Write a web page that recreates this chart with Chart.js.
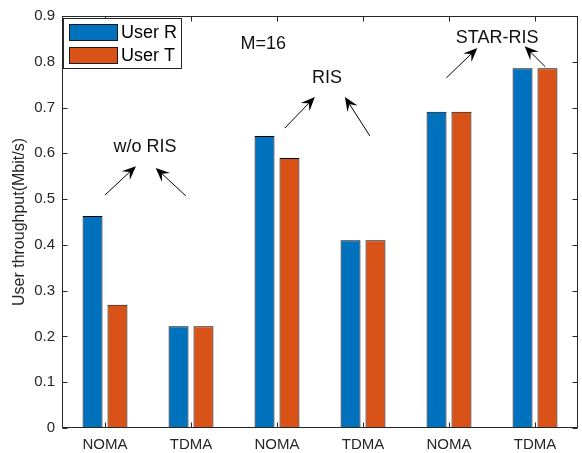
<!DOCTYPE html>
<html>
<head>
<meta charset="utf-8">
<script src="https://cdn.jsdelivr.net/npm/chart.js@4.4.1/dist/chart.umd.min.js"></script>
<style>
html,body{margin:0;padding:0;background:#fff;}
#wrap{position:relative;width:582px;height:453px;}
</style>
</head>
<body>
<div id="wrap"><canvas id="c" width="582" height="453"></canvas></div>
<script>
// ---- data ----
const categories = ['NOMA', 'TDMA', 'NOMA', 'TDMA', 'NOMA', 'TDMA'];
const userR = [0.463, 0.222, 0.638, 0.410, 0.691, 0.786];
const userT = [0.269, 0.222, 0.590, 0.410, 0.691, 0.786];
const seriesNames = ['User R', 'User T'];
const yTickLabels = ['0', '0.1', '0.2', '0.3', '0.4', '0.5', '0.6', '0.7', '0.8', '0.9'];
const yTitle = 'User throughput(Mbit/s)';

// annotation texts (x in category index units, y in data units)
const annotTexts = [
  { text: 'w/o RIS', x: 0.465, y: 0.614 },
  { text: 'M=16', x: 1.84, y: 0.839 },
  { text: 'RIS', x: 2.58, y: 0.765 },
  { text: 'STAR-RIS', x: 4.56, y: 0.852 }
];
// arrows: from (x0,y0) to head at (x1,y1), in data units
const annotArrows = [
  { x0: 0.00, y0: 0.509, x1: 0.36, y1: 0.572 },
  { x0: 0.94, y0: 0.507, x1: 0.59, y1: 0.568 },
  { x0: 2.09, y0: 0.655, x1: 2.44, y1: 0.723 },
  { x0: 3.08, y0: 0.638, x1: 2.79, y1: 0.723 },
  { x0: 3.97, y0: 0.765, x1: 4.33, y1: 0.830 },
  { x0: 5.12, y0: 0.789, x1: 4.88, y1: 0.834 }
];

const FONT = "'Liberation Sans', Arial, Helvetica, sans-serif";
const AX = '#262626';

function xPix(scale, v) {
  const p0 = scale.getPixelForValue(0);
  const p1 = scale.getPixelForValue(1);
  return p0 + (p1 - p0) * v;
}

const boxPlugin = {
  id: 'boxPlugin',
  afterDatasetsDraw(chart) {
    const { ctx, chartArea: a, scales: { x, y } } = chart;
    ctx.save();
    ctx.strokeStyle = AX;
    ctx.lineWidth = 1;
    const L = Math.round(a.left) + 0.5, R = Math.round(a.right) - 0.5;
    const T = Math.round(a.top) + 0.5, B = Math.round(a.bottom) - 0.5;
    ctx.strokeRect(L, T, R - L, B - T);
    const tl = 5;
    ctx.beginPath();
    yTickLabels.forEach((_, i) => {
      const py = Math.round(y.getPixelForValue(i * 0.1)) + 0.5;
      ctx.moveTo(L, py); ctx.lineTo(L + tl, py);
      ctx.moveTo(R, py); ctx.lineTo(R - tl, py);
    });
    categories.forEach((_, i) => {
      const px = Math.round(x.getPixelForValue(i)) + 0.5;
      ctx.moveTo(px, B); ctx.lineTo(px, B - tl);
      ctx.moveTo(px, T); ctx.lineTo(px, T + tl);
    });
    ctx.stroke();

    // annotations
    ctx.fillStyle = '#111';
    ctx.font = '18px ' + FONT;
    ctx.textAlign = 'center';
    ctx.textBaseline = 'middle';
    annotTexts.forEach(t => {
      ctx.fillText(t.text, xPix(x, t.x), y.getPixelForValue(t.y));
    });
    ctx.strokeStyle = '#000';
    ctx.fillStyle = '#000';
    annotArrows.forEach(ar => {
      const x0 = xPix(x, ar.x0), y0 = y.getPixelForValue(ar.y0);
      const x1 = xPix(x, ar.x1), y1 = y.getPixelForValue(ar.y1);
      const dx = x1 - x0, dy = y1 - y0, len = Math.hypot(dx, dy);
      const ux = dx / len, uy = dy / len, nx = -uy, ny = ux;
      const hl = 14, hw = 6, notch = 8.5;
      ctx.beginPath();
      ctx.moveTo(x0, y0);
      ctx.lineTo(x1 - ux * notch, y1 - uy * notch);
      ctx.stroke();
      ctx.beginPath();
      ctx.moveTo(x1, y1);
      ctx.lineTo(x1 - ux * hl + nx * hw, y1 - uy * hl + ny * hw);
      ctx.lineTo(x1 - ux * notch, y1 - uy * notch);
      ctx.lineTo(x1 - ux * hl - nx * hw, y1 - uy * hl - ny * hw);
      ctx.closePath();
      ctx.fill();
    });

    // legend
    const lx = Math.round(a.left) + 1, ly = Math.round(a.top) + 2, lw = 118, lh = 50;
    ctx.fillStyle = '#fff';
    ctx.fillRect(lx, ly, lw, lh);
    ctx.strokeStyle = AX;
    ctx.strokeRect(lx + 0.5, ly + 0.5, lw, lh);
    ctx.font = '18px ' + FONT;
    ctx.textAlign = 'left';
    ctx.textBaseline = 'middle';
    chart.data.datasets.forEach((ds, i) => {
      const sy = ly + 6 + i * 23;
      ctx.fillStyle = ds.backgroundColor;
      ctx.fillRect(lx + 6, sy, 49, 17);
      ctx.strokeStyle = '#1a1a1a';
      ctx.strokeRect(lx + 6.5, sy + 0.5, 48, 16);
      ctx.fillStyle = '#000';
      ctx.fillText(ds.label, lx + 58, sy + 9);
    });
    ctx.restore();
  }
};

new Chart(document.getElementById('c'), {
  type: 'bar',
  data: {
    labels: categories,
    datasets: [
      { label: seriesNames[0], data: userR, backgroundColor: '#0072BD', borderColor: '#000', borderWidth: 1 },
      { label: seriesNames[1], data: userT, backgroundColor: '#D95319', borderColor: '#000', borderWidth: 1 }
    ]
  },
  options: {
    responsive: false,
    animation: false,
    devicePixelRatio: 1,
    layout: { padding: { left: 0, right: 4, top: 16, bottom: 0 } },
    datasets: { bar: { categoryPercentage: 0.58, barPercentage: 0.8 } },
    plugins: { legend: { display: false }, tooltip: { enabled: false } },
    scales: {
      x: {
        offset: true,
        grid: { display: false, drawTicks: false },
        border: { display: false },
        ticks: { color: AX, font: { family: FONT, size: 15 }, padding: 8, maxRotation: 0, autoSkip: false },
        afterFit(s) { s.height = 25; }
      },
      y: {
        min: 0, max: 0.9,
        grid: { display: false, drawTicks: false },
        border: { display: false },
        ticks: {
          stepSize: 0.1, color: AX, font: { family: FONT, size: 15 }, padding: 7,
          callback: (v, i) => yTickLabels[i]
        },
        title: { display: true, text: yTitle, color: AX, font: { family: FONT, size: 16 }, padding: { top: 10, bottom: 0 } },
        afterFit(s) { s.width = 62; }
      }
    }
  },
  plugins: [boxPlugin]
});
</script>
</body>
</html>
